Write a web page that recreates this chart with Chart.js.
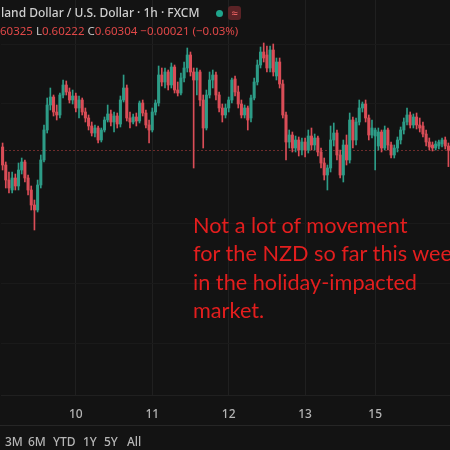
<!DOCTYPE html>
<html><head><meta charset="utf-8">
<script src="https://cdn.jsdelivr.net/npm/chart.js@4.4.1/dist/chart.umd.min.js"></script>
<style>
html,body{margin:0;padding:0;background:#131313;width:450px;height:450px;overflow:hidden;}
#wrap{position:relative;width:450px;height:450px;overflow:hidden;}
canvas{position:absolute;left:0;top:0;}
.t{position:absolute;white-space:nowrap;font-family:"Noto Sans",sans-serif;}
#h1{left:1px;top:6px;font-size:12px;line-height:14px;color:#cfcfcf;font-weight:500;}
#dot{position:absolute;left:216px;top:10px;width:7px;height:7px;border-radius:50%;background:#1fa58c;}
#box{position:absolute;left:228px;top:6px;width:13px;height:14px;border-radius:3px;background:#5b2326;color:#ff6b6b;font:11px/14px "Noto Sans",sans-serif;text-align:center;}
#h2{left:0;top:24px;font-size:11.5px;line-height:14px;}
.r{color:#e04848;} .g{color:#c8c8c8;}
#note{left:193px;top:211px;font-family:Lato,sans-serif;font-size:21.7px;line-height:28.3px;color:#e31e1e;}
#sep{position:absolute;left:0;top:425px;width:450px;height:1px;background:#262626;}
.b{position:absolute;top:435px;font-family:"Noto Sans",sans-serif;font-size:12px;line-height:14px;color:#b5b5b5;font-weight:500;}
</style></head><body>
<div id="wrap">
<canvas id="c" width="450" height="450"></canvas>
<div class="t" id="h1">land Dollar / U.S. Dollar · 1h · FXCM</div>
<div id="dot"></div>
<div id="box">≈</div>
<div class="t" id="h2"><span class="r">60325</span> <span class="g">L</span><span class="r">0.60222</span> <span class="g">C</span><span class="r">0.60304</span> <span class="r">−0.00021 (−0.03%)</span></div>
<div class="t" id="note">Not a lot of movement<br>for the NZD so far this week<br>in the holiday-impacted<br>market.</div>
<div id="sep"></div>
<span class="b" style="left:5px">3M</span>
<span class="b" style="left:28px">6M</span>
<span class="b" style="left:53px">YTD</span>
<span class="b" style="left:83px">1Y</span>
<span class="b" style="left:104px">5Y</span>
<span class="b" style="left:127px">All</span>
</div>
<script>
// Session days shown on the time axis and hourly candles per day
const dayNames   = ["9","10","11","12","13","15"];
const firstHour  = [1,0,0,0,0,0];
const hoursInDay = [23,24,24,24,22,24];

// Hourly OHLC (NZD/USD)
const open = [
0.6032,0.6023,0.60155,0.60105,0.60165,0.60125,0.60205,0.60245,0.60165,0.60105,
0.6003,0.60005,0.6013,0.60255,0.60405,0.6053,0.6057,0.60495,0.6048,0.6058,
0.6063,0.60595,0.60555,0.60575,0.60515,0.60555,0.60495,0.60465,0.60425,0.6039,
0.60415,0.60355,0.60405,0.60455,0.60485,0.60445,0.60475,0.60435,0.60555,0.60615,
0.60465,0.60445,0.6047,0.6045,0.6054,0.6049,0.6043,0.60405,0.60495,0.6054,
0.6068,0.60645,0.60695,0.6063,0.6072,0.60605,0.6059,0.60665,0.60715,0.6078,
0.60695,0.60655,0.60695,0.60555,0.60415,0.6058,0.60655,0.6068,0.6058,0.60515,
0.6048,0.60515,0.60555,0.6066,0.60595,0.60535,0.6048,0.60515,0.60465,0.60565,
0.60645,0.6073,0.60795,0.6078,0.60715,0.60805,0.60675,0.60745,0.60635,0.6048,
0.60345,0.6038,0.60315,0.60355,0.60305,0.60345,0.60305,0.60375,0.6033,0.60365,
0.60295,0.6024,0.6018,0.60215,0.60355,0.6039,0.6028,0.6018,0.6033,0.60255,
0.60455,0.60355,0.60445,0.60515,0.60535,0.60465,0.6038,0.60375,0.60325,0.60395,
0.60315,0.60405,0.6033,0.6028,0.60315,0.60355,0.60405,0.60445,0.6048,0.6043,
0.6047,0.6043,0.60425,0.60385,0.60345,0.6033,0.60315,0.60325,0.60335,0.60355,
0.60325];
const high = [
0.6034,0.60245,0.60195,0.60195,0.60185,0.6024,0.60265,0.60255,0.6018,0.60125,
0.60055,0.60155,0.6028,0.6043,0.60565,0.60615,0.6058,0.6053,0.6059,0.60655,
0.6065,0.60615,0.60605,0.6059,0.60575,0.60565,0.60515,0.6048,0.60445,0.6043,
0.60425,0.60415,0.6047,0.6053,0.60505,0.60495,0.6049,0.60575,0.6068,0.6063,
0.60495,0.60485,0.6049,0.6055,0.60555,0.60505,0.60455,0.60515,0.60555,0.60725,
0.60715,0.60715,0.60705,0.6074,0.6073,0.60645,0.6069,0.60745,0.60815,0.60795,
0.60715,0.60715,0.60705,0.6058,0.60605,0.60695,0.60705,0.60695,0.60595,0.60535,
0.60535,0.6057,0.60665,0.60675,0.60625,0.60555,0.6053,0.60525,0.6058,0.60665,
0.60755,0.6082,0.6084,0.60825,0.60825,0.60835,0.60765,0.60765,0.60655,0.60495,
0.60405,0.60395,0.60375,0.6037,0.60365,0.60365,0.60405,0.60415,0.60385,0.60375,
0.60315,0.60265,0.6023,0.60425,0.6044,0.60405,0.60305,0.60355,0.6038,0.6049,
0.6047,0.60465,0.60555,0.60545,0.60555,0.6048,0.60455,0.60415,0.60415,0.60405,
0.60425,0.60415,0.60345,0.6033,0.6037,0.6042,0.60465,0.60515,0.60495,0.60485,
0.6049,0.60465,0.60445,0.60405,0.60365,0.60345,0.6035,0.60355,0.60365,0.6037,
0.6034];
const low = [
0.60205,0.60115,0.6009,0.6009,0.60105,0.60105,0.60185,0.60145,0.6008,0.60005,
0.59905,0.59995,0.60115,0.60245,0.6039,0.60505,0.60475,0.60455,0.60465,0.60565,
0.6058,0.6054,0.60535,0.60495,0.60465,0.6048,0.60445,0.60405,0.60375,0.6037,
0.6034,0.60345,0.60395,0.60445,0.60425,0.60395,0.60415,0.6042,0.60545,0.6045,
0.60415,0.60435,0.60425,0.6044,0.60475,0.60415,0.6034,0.60395,0.6048,0.60525,
0.60625,0.60615,0.60605,0.60615,0.6059,0.60575,0.6058,0.60645,0.60695,0.60675,
0.60215,0.6058,0.60525,0.60315,0.60405,0.60565,0.60615,0.60555,0.60495,0.60445,
0.60465,0.60495,0.6054,0.60575,0.60515,0.60465,0.60465,0.60405,0.60445,0.60555,
0.6063,0.60715,0.60745,0.60695,0.60695,0.60675,0.60655,0.60615,0.60465,0.60255,
0.60315,0.60295,0.60295,0.60275,0.6028,0.6027,0.6029,0.60305,0.60305,0.60275,
0.60215,0.60155,0.60105,0.60195,0.60325,0.60255,0.60165,0.60145,0.6023,0.6024,
0.60315,0.6033,0.6043,0.60495,0.60445,0.60355,0.60365,0.60205,0.60305,0.60295,
0.60305,0.60305,0.60265,0.60265,0.60295,0.60335,0.60385,0.6043,0.60415,0.60415,
0.6041,0.60395,0.6037,0.60325,0.60305,0.603,0.60305,0.6031,0.6032,0.6031,
0.60222];
const close = [
0.6023,0.60155,0.60115,0.60165,0.60125,0.60205,0.60245,0.60165,0.60105,0.6003,
0.60005,0.6013,0.60255,0.60405,0.6053,0.6057,0.60495,0.6048,0.6058,0.6063,
0.60595,0.60555,0.60575,0.60515,0.60555,0.60495,0.60465,0.60425,0.6039,0.60415,
0.60355,0.60405,0.60455,0.60485,0.60445,0.60475,0.60435,0.60555,0.60615,0.60465,
0.60445,0.6047,0.6045,0.6054,0.6049,0.6043,0.60405,0.60495,0.6054,0.6068,
0.60645,0.60695,0.6063,0.6072,0.60605,0.6059,0.60665,0.60715,0.6078,0.60695,
0.60655,0.60695,0.60555,0.60415,0.6058,0.60655,0.6068,0.6058,0.60515,0.6048,
0.60515,0.60555,0.60655,0.60595,0.60535,0.6048,0.60515,0.60455,0.60565,0.60645,
0.6073,0.60795,0.60765,0.60715,0.60805,0.60695,0.60745,0.60635,0.6048,0.60345,
0.6038,0.60315,0.60355,0.60305,0.60345,0.60305,0.60375,0.6033,0.60365,0.60295,
0.6024,0.6018,0.60215,0.60355,0.6039,0.6028,0.6018,0.6033,0.60255,0.60455,
0.60355,0.60445,0.60515,0.60535,0.60465,0.6038,0.60415,0.60405,0.60395,0.60315,
0.60405,0.6033,0.6028,0.60315,0.60355,0.60405,0.60445,0.6048,0.6043,0.6047,
0.6043,0.60415,0.60385,0.60345,0.6032,0.60315,0.60335,0.60345,0.60355,0.60325,
0.60304];

// Price axis range and horizontal grid levels
const priceMin = 0.5908;
const priceMax = 0.61055;
const gridPrices = [0.60835,0.60535,0.60235,0.59935,0.59635,0.59335];

const UP = '#2d9c87', DOWN = '#da4d57';

// Build hourly category labels
const labels = [], candleDay = [], candleHour = [];
dayNames.forEach((d, k) => {
  for (let h = firstHour[k]; h < firstHour[k] + hoursInDay[k]; h++) {
    labels.push(d + ' ' + String(h).padStart(2,'0') + ':00');
    candleDay.push(d); candleHour.push(h);
  }
});

const colors = close.map((c, i) => c >= open[i] ? UP : DOWN);

const priceLine = {
  id: 'priceLine',
  beforeDatasetsDraw(chart) {
    const y = Math.round(chart.scales.y.getPixelForValue(close[close.length - 1])) + 0.5;
    const ctx = chart.ctx, a = chart.chartArea;
    ctx.save();
    ctx.strokeStyle = 'rgba(200,70,70,0.5)';
    ctx.lineWidth = 1;
    ctx.setLineDash([2, 2]);
    ctx.beginPath(); ctx.moveTo(a.left, y); ctx.lineTo(a.right, y); ctx.stroke();
    ctx.restore();
  }
};

new Chart(document.getElementById('c'), {
  type: 'bar',
  data: {
    labels,
    datasets: [
      { label: 'wick', data: low.map((l, i) => [l, high[i]]), backgroundColor: colors,
        barThickness: 1, grouped: false, order: 2, borderWidth: 0 },
      { label: 'body', data: open.map((o, i) => [Math.min(o, close[i]), Math.max(o, close[i])]),
        backgroundColor: colors, barThickness: 2.4, minBarLength: 1, grouped: false, order: 1, borderWidth: 0 }
    ]
  },
  options: {
    responsive: false, animation: false,
    layout: { padding: { left: 1, right: 0, top: 0, bottom: 0 } },
    plugins: { legend: { display: false }, tooltip: { enabled: false } },
    scales: {
      x: {
        offset: true,
        grid: { offset: false, color: '#202020', drawTicks: false },
        border: { display: true, color: '#202020' },
        ticks: { autoSkip: false, maxRotation: 0, color: '#b4b4b4', padding: 12,
          font: { family: 'Noto Sans', size: 12, weight: '500' },
          callback: (v) => candleDay[v] },
        afterBuildTicks: (s) => { s.ticks = s.ticks.filter(t => candleHour[t.value] === 0); },
        afterFit: (s) => { s.height = 55; }
      },
      y: {
        position: 'right', min: priceMin, max: priceMax,
        grid: { color: '#1a1a1a', drawTicks: false },
        border: { display: false },
        ticks: { display: false },
        afterBuildTicks: (s) => { s.ticks = gridPrices.map(v => ({ value: v })); },
        afterFit: (s) => { s.width = 0; }
      }
    }
  },
  plugins: [priceLine]
});
</script>
</body></html>
